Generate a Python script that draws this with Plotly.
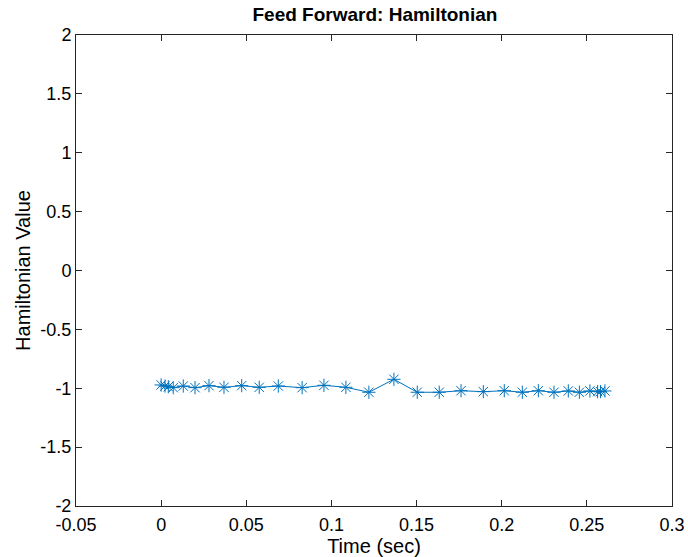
import plotly.graph_objects as go

time_sec = [0, 0.0023, 0.0042, 0.0071, 0.013, 0.0199, 0.0281, 0.0369, 0.0473, 0.0576,
            0.0688, 0.0828, 0.0956, 0.1085, 0.122, 0.1367, 0.1504, 0.1633, 0.1761, 0.1892,
            0.2015, 0.2121, 0.2215, 0.2307, 0.2391, 0.2456, 0.2518, 0.2563, 0.258, 0.2606]
hamiltonian = [-0.972, -0.981, -0.987, -0.995, -0.981, -0.995, -0.978, -0.992, -0.978, -0.992,
               -0.981, -0.995, -0.975, -0.992, -1.034, -0.924, -1.034, -1.034, -1.021, -1.029,
               -1.021, -1.034, -1.021, -1.034, -1.023, -1.034, -1.023, -1.029, -1.029, -1.023]

x_ticks = [-0.05, 0, 0.05, 0.1, 0.15, 0.2, 0.25, 0.3]
x_labels = ["-0.05", "0", "0.05", "0.1", "0.15", "0.2", "0.25", "0.3"]
y_ticks = [-2, -1.5, -1, -0.5, 0, 0.5, 1, 1.5, 2]
y_labels = ["-2", "-1.5", "-1", "-0.5", "0", "0.5", "1", "1.5", "2"]

blue = "#0072BD"
axis_col = "#262626"
font = "Liberation Sans, Arial, sans-serif"

fig = go.Figure()
fig.add_trace(go.Scatter(
    x=time_sec, y=hamiltonian, mode="lines+markers",
    line=dict(color=blue, width=1),
    marker=dict(symbol="asterisk-open", size=11, color=blue, line=dict(color=blue, width=1)),
    showlegend=False,
))

axis_common = dict(
    showline=True, linecolor=axis_col, linewidth=1, mirror="ticks",
    ticks="inside", ticklen=6, tickcolor=axis_col, tickwidth=1,
    showgrid=False, zeroline=False, automargin=False,
    tickfont=dict(family=font, size=18, color="#000000"),
)

fig.update_layout(
    width=688, height=557,
    margin=dict(l=76, r=16, t=35, b=51, autoexpand=False),
    paper_bgcolor="white", plot_bgcolor="white",
    title=dict(text="<b>Feed Forward: Hamiltonian</b>", x=0.545, xanchor="center",
               y=1 - 14 / 557, yanchor="middle", yref="container", automargin=False,
               font=dict(family=font, size=19, color="#000000")),
    xaxis=dict(range=[-0.05, 0.3], tickvals=x_ticks, ticktext=x_labels,
               ticklabelstandoff=2,
               title=dict(text="Time (sec)", font=dict(family=font, size=20, color="#000000"), standoff=2),
               **axis_common),
    yaxis=dict(range=[-2, 2], tickvals=y_ticks, ticktext=y_labels,
               title=dict(text="Hamiltonian Value", font=dict(family=font, size=20, color="#000000"), standoff=4),
               **axis_common),
)

fig.write_html("out.html")
